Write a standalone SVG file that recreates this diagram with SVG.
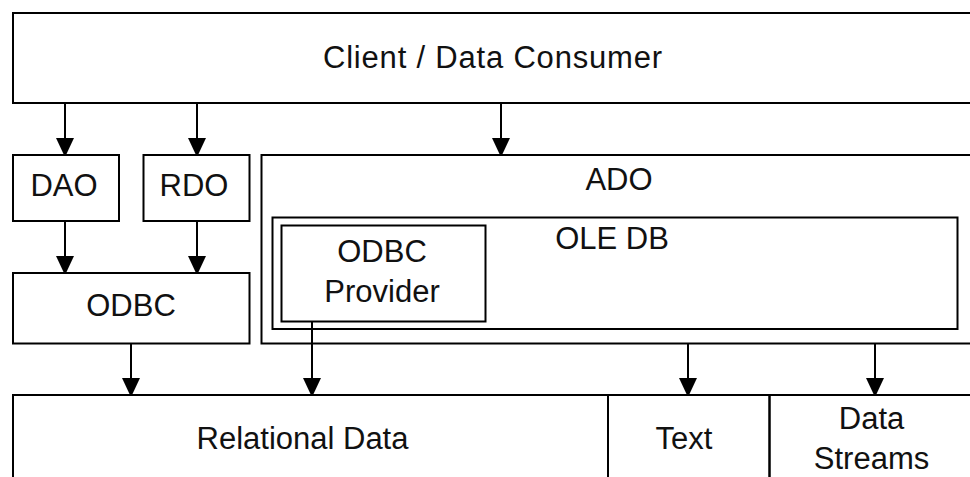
<svg xmlns="http://www.w3.org/2000/svg" width="970" height="477" viewBox="0 0 970 477">
  <style>
    .box { fill: none; stroke: #000; stroke-width: 2; }
    .lbl { font-family: "Liberation Sans", Arial, sans-serif; font-size: 31px; fill: #111; text-anchor: middle; }
    .conn { stroke: #000; stroke-width: 2; fill: none; marker-end: url(#arr); }
  </style>
  <defs>
    <marker id="arr" markerUnits="userSpaceOnUse" markerWidth="20" markerHeight="20" viewBox="0 0 20 20" refX="18" refY="10" orient="auto">
      <path d="M1,1 L18,9 L18,11 L1,19 Z" fill="#000"/>
    </marker>
  </defs>
  <rect x="0" y="0" width="970" height="477" fill="#fff"/>

  <g id="client">
    <rect class="box" x="13" y="13" width="970" height="90"/>
    <text class="lbl" x="492.5" y="68" textLength="339" lengthAdjust="spacing">Client / Data Consumer</text>
  </g>
  <g id="dao">
    <rect class="box" x="13" y="155" width="106" height="66"/>
    <text class="lbl" x="64" y="196">DAO</text>
  </g>
  <g id="rdo">
    <rect class="box" x="143.5" y="155" width="106" height="66"/>
    <text class="lbl" x="194" y="196">RDO</text>
  </g>
  <g id="odbc">
    <rect class="box" x="13" y="273" width="236.5" height="70.5"/>
    <text class="lbl" x="131" y="316">ODBC</text>
  </g>
  <g id="ado">
    <rect class="box" x="261.5" y="155" width="720" height="188.5"/>
    <text class="lbl" x="619" y="190">ADO</text>
  </g>
  <g id="oledb">
    <rect class="box" x="272.5" y="217.5" width="685" height="111.5"/>
    <text class="lbl" x="612" y="249">OLE DB</text>
  </g>
  <g id="odbcprovider">
    <rect class="box" x="281.5" y="225.5" width="204" height="96"/>
    <text class="lbl" x="382" y="261.5">ODBC</text>
    <text class="lbl" x="382" y="301.5">Provider</text>
  </g>
  <g id="relational">
    <rect class="box" x="13" y="395" width="595" height="100"/>
    <text class="lbl" x="302.5" y="448.5">Relational Data</text>
  </g>
  <g id="text">
    <rect class="box" x="608" y="395" width="161.5" height="100"/>
    <text class="lbl" x="684" y="448.5">Text</text>
  </g>
  <g id="streams">
    <rect class="box" x="769.5" y="395" width="220" height="100"/>
    <text class="lbl" x="871.5" y="428.5">Data</text>
    <text class="lbl" x="871.5" y="468.5">Streams</text>
  </g>

  <g id="connectors">
    <line class="conn" x1="65" y1="103" x2="65" y2="155"/>
    <line class="conn" x1="197" y1="103" x2="197" y2="155"/>
    <line class="conn" x1="501" y1="103" x2="501" y2="155"/>
    <line class="conn" x1="65" y1="221" x2="65" y2="273"/>
    <line class="conn" x1="197" y1="221" x2="197" y2="273"/>
    <line class="conn" x1="131" y1="343.5" x2="131" y2="395"/>
    <line class="conn" x1="312" y1="321.5" x2="312" y2="395"/>
    <line class="conn" x1="688" y1="343.5" x2="688" y2="395"/>
    <line class="conn" x1="875" y1="343.5" x2="875" y2="395"/>
  </g>
</svg>
